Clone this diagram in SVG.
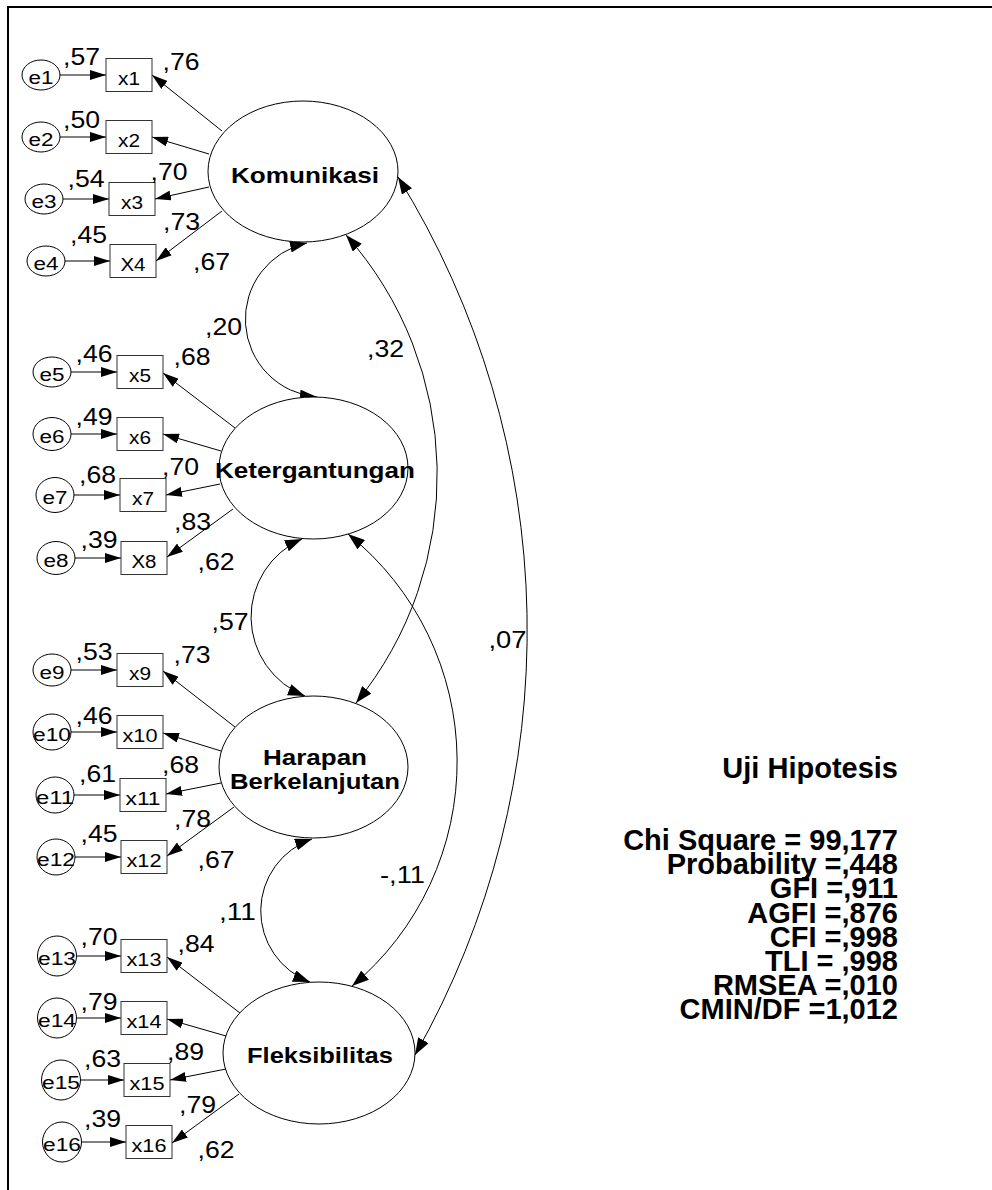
<svg xmlns="http://www.w3.org/2000/svg" width="992" height="1190" viewBox="0 0 992 1190">
<style>
text{font-family:"Liberation Sans",Arial,sans-serif;fill:#000}
.sm{font-size:18px;text-anchor:middle}
.num{font-size:24px;text-anchor:middle}
.lat{font-size:22px;font-weight:bold;text-anchor:middle}
.fit{font-size:29px;font-weight:bold;text-anchor:end}
.shape{fill:#fff;stroke:#000;stroke-width:1}
.box{fill:#fff;stroke:#333;stroke-width:1}
.ln{fill:none;stroke:#000;stroke-width:1;marker-end:url(#ah)}
.cv{fill:none;stroke:#000;stroke-width:1;marker-start:url(#ah2);marker-end:url(#ah2)}
.frame{stroke:#000;stroke-width:2;fill:none}
</style>
<defs>
<marker id="ah" markerUnits="userSpaceOnUse" viewBox="0 0 16 10" refX="16" refY="5" markerWidth="16" markerHeight="10" orient="auto-start-reverse">
<path d="M0,0 L16,5 L0,10 Z" fill="#000"/>
</marker>
<marker id="ah2" markerUnits="userSpaceOnUse" viewBox="0 0 17 12" refX="17" refY="6" markerWidth="17" markerHeight="12" orient="auto-start-reverse">
<path d="M0,0 L17,6 L0,12 Z" fill="#000"/>
</marker>
</defs>
<rect width="992" height="1190" fill="#fff"/>
<path class="frame" d="M8,1190 V7 H992"/>

<g id="connectors">
<line class="ln" x1="60" y1="75" x2="106" y2="75"/>
<line class="ln" x1="60" y1="137" x2="106" y2="137"/>
<line class="ln" x1="63" y1="199" x2="109" y2="199"/>
<line class="ln" x1="65" y1="261" x2="110" y2="261"/>
<line class="ln" x1="71" y1="372" x2="117" y2="372"/>
<line class="ln" x1="71" y1="434" x2="117" y2="434"/>
<line class="ln" x1="74" y1="495" x2="120" y2="495"/>
<line class="ln" x1="75" y1="558" x2="121" y2="558"/>
<line class="ln" x1="71" y1="670" x2="117" y2="670"/>
<line class="ln" x1="71" y1="732" x2="117" y2="732"/>
<line class="ln" x1="74" y1="795" x2="120" y2="795"/>
<line class="ln" x1="75" y1="857" x2="121" y2="857"/>
<line class="ln" x1="76.5" y1="956" x2="121" y2="956"/>
<line class="ln" x1="76.5" y1="1018" x2="121" y2="1018"/>
<line class="ln" x1="80.5" y1="1080" x2="124" y2="1080"/>
<line class="ln" x1="81.5" y1="1142" x2="126" y2="1142"/>
<line class="ln" x1="222" y1="131" x2="152" y2="75"/>
<line class="ln" x1="209" y1="154" x2="152" y2="137"/>
<line class="ln" x1="209" y1="187" x2="155" y2="199"/>
<line class="ln" x1="222" y1="211" x2="156" y2="261"/>
<line class="ln" x1="235" y1="428" x2="163" y2="373"/>
<line class="ln" x1="221" y1="451" x2="163" y2="434"/>
<line class="ln" x1="220" y1="484" x2="166" y2="495"/>
<line class="ln" x1="233" y1="509" x2="167" y2="557"/>
<line class="ln" x1="235" y1="727" x2="163" y2="671"/>
<line class="ln" x1="221" y1="751" x2="163" y2="733"/>
<line class="ln" x1="221" y1="783" x2="166" y2="794"/>
<line class="ln" x1="234" y1="807" x2="167" y2="856"/>
<line class="ln" x1="240" y1="1013" x2="167" y2="957"/>
<line class="ln" x1="226" y1="1036" x2="167" y2="1019"/>
<line class="ln" x1="226" y1="1069" x2="170" y2="1080"/>
<line class="ln" x1="239" y1="1094" x2="172" y2="1143"/>
<path class="cv" d="M307,243 A78,78 0 0,0 317,397"/>
<path class="cv" d="M346,235 A361,361 0 0,1 356,703"/>
<path class="cv" d="M302,539 A85,85 0 0,0 305,696"/>
<path class="cv" d="M348,534 A292,292 0 0,1 352,986"/>
<path class="cv" d="M312,839 A76,76 0 0,0 310,982"/>
<path class="cv" d="M398,177 A860,860 0 0,1 415,1055"/>
</g>

<g id="e1"><ellipse class="shape" cx="41" cy="75" rx="19" ry="15"/><text class="sm" x="41" y="84" textLength="25" lengthAdjust="spacingAndGlyphs">e1</text></g>
<g id="e2"><ellipse class="shape" cx="41" cy="137" rx="19" ry="15"/><text class="sm" x="41" y="146" textLength="25" lengthAdjust="spacingAndGlyphs">e2</text></g>
<g id="e3"><ellipse class="shape" cx="44" cy="199" rx="19" ry="15"/><text class="sm" x="44" y="208" textLength="25" lengthAdjust="spacingAndGlyphs">e3</text></g>
<g id="e4"><ellipse class="shape" cx="46" cy="261" rx="19" ry="15"/><text class="sm" x="46" y="270" textLength="25" lengthAdjust="spacingAndGlyphs">e4</text></g>
<g id="e5"><ellipse class="shape" cx="52" cy="372" rx="19" ry="15"/><text class="sm" x="52" y="381" textLength="25" lengthAdjust="spacingAndGlyphs">e5</text></g>
<g id="e6"><ellipse class="shape" cx="52" cy="434" rx="19" ry="16.5"/><text class="sm" x="52" y="443" textLength="25" lengthAdjust="spacingAndGlyphs">e6</text></g>
<g id="e7"><ellipse class="shape" cx="55" cy="495" rx="19" ry="17.5"/><text class="sm" x="55" y="504" textLength="25" lengthAdjust="spacingAndGlyphs">e7</text></g>
<g id="e8"><ellipse class="shape" cx="56" cy="558" rx="19" ry="16.5"/><text class="sm" x="56" y="567" textLength="25" lengthAdjust="spacingAndGlyphs">e8</text></g>
<g id="e9"><ellipse class="shape" cx="52" cy="670" rx="19" ry="16"/><text class="sm" x="52" y="679" textLength="25" lengthAdjust="spacingAndGlyphs">e9</text></g>
<g id="e10"><ellipse class="shape" cx="52" cy="732" rx="19" ry="18"/><text class="sm" x="52" y="741" textLength="38" lengthAdjust="spacingAndGlyphs">e10</text></g>
<g id="e11"><ellipse class="shape" cx="55" cy="795" rx="19" ry="18"/><text class="sm" x="55" y="804" textLength="38" lengthAdjust="spacingAndGlyphs">e11</text></g>
<g id="e12"><ellipse class="shape" cx="56" cy="857" rx="19" ry="18"/><text class="sm" x="56" y="866" textLength="38" lengthAdjust="spacingAndGlyphs">e12</text></g>
<g id="e13"><ellipse class="shape" cx="57" cy="956" rx="19.5" ry="20"/><text class="sm" x="57" y="965" textLength="38" lengthAdjust="spacingAndGlyphs">e13</text></g>
<g id="e14"><ellipse class="shape" cx="57" cy="1018" rx="19.5" ry="20"/><text class="sm" x="57" y="1027" textLength="38" lengthAdjust="spacingAndGlyphs">e14</text></g>
<g id="e15"><ellipse class="shape" cx="61" cy="1080" rx="19.5" ry="20"/><text class="sm" x="61" y="1089" textLength="38" lengthAdjust="spacingAndGlyphs">e15</text></g>
<g id="e16"><ellipse class="shape" cx="62" cy="1142" rx="19.5" ry="20"/><text class="sm" x="62" y="1151" textLength="38" lengthAdjust="spacingAndGlyphs">e16</text></g>

<g id="x1"><rect class="box" x="106" y="58.5" width="46" height="33"/><text class="sm" x="129" y="84.5" textLength="22" lengthAdjust="spacingAndGlyphs">x1</text></g>
<g id="x2"><rect class="box" x="106" y="120.5" width="46" height="33"/><text class="sm" x="129" y="146.5" textLength="22" lengthAdjust="spacingAndGlyphs">x2</text></g>
<g id="x3"><rect class="box" x="109" y="182.5" width="46" height="33"/><text class="sm" x="132" y="208.5" textLength="22" lengthAdjust="spacingAndGlyphs">x3</text></g>
<g id="x4"><rect class="box" x="110" y="244.5" width="46" height="33"/><text class="sm" x="133" y="270.5" textLength="25" lengthAdjust="spacingAndGlyphs">X4</text></g>
<g id="x5"><rect class="box" x="117" y="355.5" width="46" height="33"/><text class="sm" x="140" y="381.5" textLength="22" lengthAdjust="spacingAndGlyphs">x5</text></g>
<g id="x6"><rect class="box" x="117" y="417.5" width="46" height="33"/><text class="sm" x="140" y="443.5" textLength="22" lengthAdjust="spacingAndGlyphs">x6</text></g>
<g id="x7"><rect class="box" x="120" y="478.5" width="46" height="33"/><text class="sm" x="143" y="504.5" textLength="22" lengthAdjust="spacingAndGlyphs">x7</text></g>
<g id="x8"><rect class="box" x="121" y="541.5" width="46" height="33"/><text class="sm" x="144" y="567.5" textLength="25" lengthAdjust="spacingAndGlyphs">X8</text></g>
<g id="x9"><rect class="box" x="117" y="653.5" width="46" height="33"/><text class="sm" x="140" y="679.5" textLength="22" lengthAdjust="spacingAndGlyphs">x9</text></g>
<g id="x10"><rect class="box" x="117" y="715.5" width="46" height="33"/><text class="sm" x="140" y="741.5" textLength="35" lengthAdjust="spacingAndGlyphs">x10</text></g>
<g id="x11"><rect class="box" x="120" y="778.5" width="46" height="33"/><text class="sm" x="143" y="804.5" textLength="35" lengthAdjust="spacingAndGlyphs">x11</text></g>
<g id="x12"><rect class="box" x="121" y="840.5" width="46" height="33"/><text class="sm" x="144" y="866.5" textLength="35" lengthAdjust="spacingAndGlyphs">x12</text></g>
<g id="x13"><rect class="box" x="121" y="939.5" width="46" height="33"/><text class="sm" x="144" y="965.5" textLength="35" lengthAdjust="spacingAndGlyphs">x13</text></g>
<g id="x14"><rect class="box" x="121" y="1001.5" width="46" height="33"/><text class="sm" x="144" y="1027.5" textLength="35" lengthAdjust="spacingAndGlyphs">x14</text></g>
<g id="x15"><rect class="box" x="124" y="1063.5" width="46" height="33"/><text class="sm" x="147" y="1089.5" textLength="35" lengthAdjust="spacingAndGlyphs">x15</text></g>
<g id="x16"><rect class="box" x="126" y="1125.5" width="46" height="33"/><text class="sm" x="149" y="1151.5" textLength="35" lengthAdjust="spacingAndGlyphs">x16</text></g>

<g id="komunikasi"><ellipse class="shape" cx="303" cy="171.5" rx="95" ry="70.5"/><text class="lat" x="305" y="183" textLength="148" lengthAdjust="spacingAndGlyphs">Komunikasi</text></g>
<g id="ketergantungan"><ellipse class="shape" cx="313.5" cy="468" rx="94.5" ry="71"/><text class="lat" x="315" y="478" textLength="200" lengthAdjust="spacingAndGlyphs">Ketergantungan</text></g>
<g id="harapan"><ellipse class="shape" cx="313.5" cy="767" rx="94.5" ry="71"/><text class="lat" x="315" y="765" textLength="104" lengthAdjust="spacingAndGlyphs">Harapan</text><text class="lat" x="315" y="789" textLength="170" lengthAdjust="spacingAndGlyphs">Berkelanjutan</text></g>
<g id="fleksibilitas"><ellipse class="shape" cx="319" cy="1053" rx="96" ry="71"/><text class="lat" x="320" y="1063" textLength="146" lengthAdjust="spacingAndGlyphs">Fleksibilitas</text></g>

<g id="labels">
<text class="num" x="81.5" y="65" textLength="37" lengthAdjust="spacingAndGlyphs">,57</text>
<text class="num" x="81.5" y="128" textLength="37" lengthAdjust="spacingAndGlyphs">,50</text>
<text class="num" x="86" y="187" textLength="37" lengthAdjust="spacingAndGlyphs">,54</text>
<text class="num" x="88.5" y="243" textLength="37" lengthAdjust="spacingAndGlyphs">,45</text>
<text class="num" x="94" y="362" textLength="37" lengthAdjust="spacingAndGlyphs">,46</text>
<text class="num" x="94" y="425" textLength="37" lengthAdjust="spacingAndGlyphs">,49</text>
<text class="num" x="97.5" y="483" textLength="37" lengthAdjust="spacingAndGlyphs">,68</text>
<text class="num" x="99" y="548" textLength="37" lengthAdjust="spacingAndGlyphs">,39</text>
<text class="num" x="94" y="660" textLength="37" lengthAdjust="spacingAndGlyphs">,53</text>
<text class="num" x="94" y="724" textLength="37" lengthAdjust="spacingAndGlyphs">,46</text>
<text class="num" x="97.5" y="782" textLength="37" lengthAdjust="spacingAndGlyphs">,61</text>
<text class="num" x="99" y="842" textLength="37" lengthAdjust="spacingAndGlyphs">,45</text>
<text class="num" x="99" y="945" textLength="37" lengthAdjust="spacingAndGlyphs">,70</text>
<text class="num" x="99" y="1010" textLength="37" lengthAdjust="spacingAndGlyphs">,79</text>
<text class="num" x="102.5" y="1067" textLength="37" lengthAdjust="spacingAndGlyphs">,63</text>
<text class="num" x="102.5" y="1127" textLength="37" lengthAdjust="spacingAndGlyphs">,39</text>
<text class="num" x="181" y="70" textLength="37" lengthAdjust="spacingAndGlyphs">,76</text>
<text class="num" x="169" y="180" textLength="37" lengthAdjust="spacingAndGlyphs">,70</text>
<text class="num" x="181.5" y="230" textLength="37" lengthAdjust="spacingAndGlyphs">,73</text>
<text class="num" x="211.5" y="270" textLength="37" lengthAdjust="spacingAndGlyphs">,67</text>
<text class="num" x="192" y="365" textLength="37" lengthAdjust="spacingAndGlyphs">,68</text>
<text class="num" x="180.5" y="475" textLength="37" lengthAdjust="spacingAndGlyphs">,70</text>
<text class="num" x="192.5" y="530" textLength="37" lengthAdjust="spacingAndGlyphs">,83</text>
<text class="num" x="216" y="570" textLength="37" lengthAdjust="spacingAndGlyphs">,62</text>
<text class="num" x="192" y="663" textLength="37" lengthAdjust="spacingAndGlyphs">,73</text>
<text class="num" x="180.5" y="773" textLength="37" lengthAdjust="spacingAndGlyphs">,68</text>
<text class="num" x="192.5" y="827" textLength="37" lengthAdjust="spacingAndGlyphs">,78</text>
<text class="num" x="216" y="868" textLength="37" lengthAdjust="spacingAndGlyphs">,67</text>
<text class="num" x="196" y="952" textLength="37" lengthAdjust="spacingAndGlyphs">,84</text>
<text class="num" x="185.5" y="1060" textLength="37" lengthAdjust="spacingAndGlyphs">,89</text>
<text class="num" x="197.5" y="1113" textLength="37" lengthAdjust="spacingAndGlyphs">,79</text>
<text class="num" x="216" y="1158" textLength="37" lengthAdjust="spacingAndGlyphs">,62</text>
<text class="num" x="223.5" y="335" textLength="37" lengthAdjust="spacingAndGlyphs">,20</text>
<text class="num" x="385.5" y="357" textLength="37" lengthAdjust="spacingAndGlyphs">,32</text>
<text class="num" x="230" y="630" textLength="37" lengthAdjust="spacingAndGlyphs">,57</text>
<text class="num" x="237.5" y="920" textLength="37" lengthAdjust="spacingAndGlyphs">,11</text>
<text class="num" x="402.5" y="883" textLength="45" lengthAdjust="spacingAndGlyphs">-,11</text>
<text class="num" x="507.5" y="648" textLength="38" lengthAdjust="spacingAndGlyphs">,07</text>
</g>

<g id="fit-stats">
<text class="fit" x="898" y="778">Uji Hipotesis</text>
<text class="fit" x="898" y="850">Chi Square = 99,177</text>
<text class="fit" x="898" y="874">Probability =,448</text>
<text class="fit" x="898" y="898">GFI =,911</text>
<text class="fit" x="898" y="922.5">AGFI =,876</text>
<text class="fit" x="898" y="946.5">CFI =,998</text>
<text class="fit" x="898" y="970.5">TLI = ,998</text>
<text class="fit" x="898" y="995">RMSEA =,010</text>
<text class="fit" x="898" y="1019">CMIN/DF =1,012</text>
</g>
</svg>
